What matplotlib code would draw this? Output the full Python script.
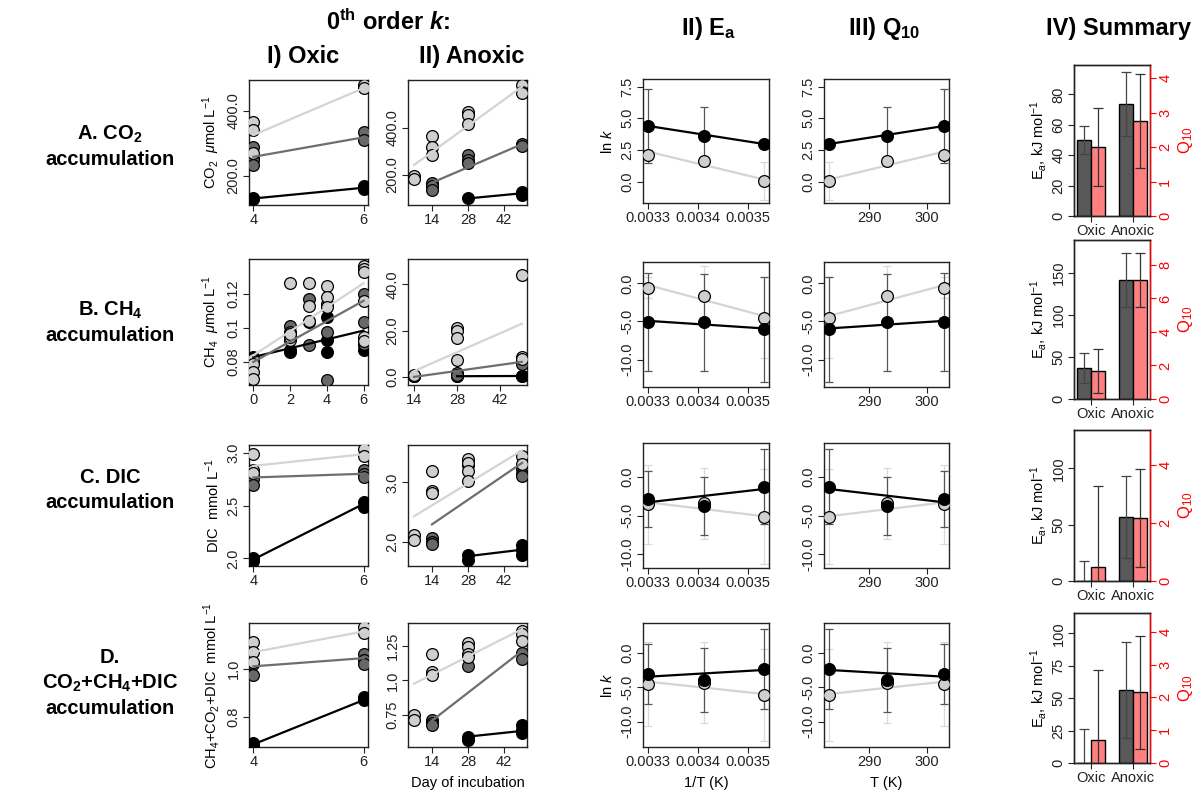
import matplotlib
matplotlib.use("Agg")
import matplotlib.pyplot as plt

plt.rcParams['font.family'] = ['Liberation Sans', 'DejaVu Sans']
plt.rcParams['mathtext.fontset'] = 'custom'
plt.rcParams['mathtext.rm'] = 'Liberation Sans'
plt.rcParams['mathtext.it'] = 'Liberation Sans:italic'
plt.rcParams['mathtext.bf'] = 'Liberation Sans:bold'
plt.rcParams['mathtext.bfit'] = 'Liberation Sans:italic:bold'

# ---- 0th order k: concentration vs day, {shade: (days, values)} ----
co2_oxic = {"black": ([4, 4, 6, 6], [131, 128, 169, 159]),
            "dark": ([4, 4, 4, 4, 6, 6], [288, 259, 249, 234, 336, 311]),
            "light": ([4, 4, 4, 6, 6], [367, 341, 270, 480, 470])}
co2_oxic_fit = {"black": ([4, 6], [131, 164]), "dark": ([4, 6], [259, 319]),
                "light": ([4, 6], [326, 470])}
co2_anox = {"black": ([28, 49, 49], [100, 129, 115]),
            "dark": ([14, 14, 14, 28, 28, 28, 49, 49], [167, 153, 136, 285, 264, 250, 331, 323]),
            "light": ([7, 7, 14, 14, 14, 28, 28, 28, 49, 49, 49],
                      [194, 181, 366, 318, 285, 468, 455, 417, 583, 555, 548])}
co2_anox_fit = {"black": ([28, 49], [100, 122]), "dark": ([14, 49], [167, 331]),
                "light": ([7, 49], [242, 576])}

ch4_oxic = {"black": ([0, 2, 2, 3, 4, 4, 4, 6, 6],
                      [0.083, 0.0868, 0.0858, 0.1034, 0.1063, 0.0927, 0.0858, 0.0897, 0.0872]),
            "dark": ([0, 2, 2, 3, 3, 4, 4, 4, 6, 6, 6],
                     [0.080, 0.1009, 0.0975, 0.1171, 0.0897, 0.1141, 0.0975, 0.0693, 0.1200, 0.1034, 0.0907]),
            "light": ([0, 0, 0, 0, 2, 2, 2, 2, 3, 3, 3, 4, 4, 4, 6, 6, 6, 6, 6, 6],
                      [0.082, 0.079, 0.074, 0.070, 0.1264, 0.0927, 0.0946, 0.0966, 0.1264, 0.1128,
                       0.1044, 0.1249, 0.1180, 0.1122, 0.1366, 0.1346, 0.1332, 0.1161, 0.0946, 0.0923])}
ch4_oxic_fit = {"black": ([0, 6], [0.0829, 0.0985]), "dark": ([0, 6], [0.080, 0.1161]),
                "light": ([0, 6], [0.0839, 0.1264])}
ch4_anox = {"black": ([14, 28, 28, 49, 49], [0.2, 0.2, 0.3, 0.3, 0.5]),
            "dark": ([14, 28, 28, 49, 49], [0.3, 1.5, 1.0, 7.0, 5.5]),
            "light": ([14, 14, 28, 28, 28, 28, 49, 49, 49], [0.5, 1.0, 21, 20, 17, 7.5, 44, 8.5, 7.8])}
ch4_anox_fit = {"black": ([28, 49], [0.3, 0.4]), "dark": ([14, 49], [0.0, 6.5]),
                "light": ([14, 49], [2.5, 23])}

dic_oxic = {"black": ([4, 4, 6, 6], [2.0, 1.98, 2.53, 2.49]),
            "dark": ([4, 4, 4, 6, 6, 6], [2.78, 2.75, 2.69, 2.835, 2.80, 2.77]),
            "light": ([4, 4, 4, 6, 6], [2.985, 2.835, 2.81, 3.03, 2.97])}
dic_oxic_fit = {"black": ([4, 6], [1.99, 2.515]), "dark": ([4, 6], [2.765, 2.80]),
                "light": ([4, 6], [2.875, 2.985])}
dic_anox = {"black": ([28, 28, 49, 49, 49], [1.78, 1.69, 1.95, 1.86, 1.78]),
            "dark": ([14, 14, 14, 28, 28, 49, 49, 49], [2.06, 2.0, 1.96, 3.30, 3.35, 3.22, 3.14, 3.11]),
            "light": ([7, 7, 14, 14, 14, 28, 28, 28, 28, 49, 49],
                      [2.11, 2.03, 3.195, 2.86, 2.83, 3.39, 3.33, 3.195, 3.03, 3.445, 3.31])}
dic_anox_fit = {"black": ([28, 49], [1.76, 1.87]), "dark": ([14, 49], [2.295, 3.33]),
                "light": ([7, 49], [2.43, 3.54])}

tot_oxic = {"black": ([4, 4, 6, 6], [0.69, 0.683, 0.883, 0.87]),
            "dark": ([4, 4, 6, 6, 6], [1.02, 0.976, 1.062, 1.035, 1.02]),
            "light": ([4, 4, 4, 6, 6], [1.11, 1.069, 1.027, 1.175, 1.15])}
tot_oxic_fit = {"black": ([4, 6], [0.686, 0.87]), "dark": ([4, 6], [1.01, 1.044]),
                "light": ([4, 6], [1.069, 1.155])}
tot_anox = {"black": ([28, 28, 49, 49, 49], [0.595, 0.57, 0.68, 0.643, 0.62]),
            "dark": ([14, 14, 14, 28, 49, 49], [0.714, 0.69, 0.68, 1.107, 1.20, 1.155]),
            "light": ([7, 7, 14, 14, 14, 28, 28, 28, 28, 49, 49, 49],
                      [0.75, 0.714, 1.19, 1.06, 1.036, 1.27, 1.24, 1.19, 1.17, 1.357, 1.333, 1.286])}
tot_anox_fit = {"black": ([28, 49], [0.595, 0.636]), "dark": ([14, 49], [0.71, 1.214]),
                "light": ([7, 49], [0.976, 1.37])}

oxic_yticks = {"A": ([200, 400], ["200.0", "400.0"]), "B": ([0.08, 0.1, 0.12], ["0.08", "0.1", "0.12"]),
               "C": ([2.0, 2.5, 3.0], ["2.0", "2.5", "3.0"]), "D": ([0.8, 1.0], ["0.8", "1.0"])}
anox_yticks = {"A": ([200, 400], ["200.0", "400.0"]), "B": ([0, 20, 40], ["0.0", "20.0", "40.0"]),
               "C": ([2.0, 3.0], ["2.0", "3.0"]), "D": ([0.75, 1.0, 1.25], ["0.75", "1.0", "1.25"])}
oxic_ylim = {"A": (111, 495), "B": (0.0664, 0.1407), "C": (1.928, 3.072), "D": (0.675, 1.19)}
anox_ylim = {"A": (72, 604), "B": (-3.5, 51), "C": (1.595, 3.63), "D": (0.52, 1.414)}
conc_ylabels = {"A": r"CO$_2$  $\mu$mol L$^{-1}$", "B": r"CH$_4$  $\mu$mol L$^{-1}$",
                "C": r"DIC  mmol L$^{-1}$", "D": r"CH$_4$+CO$_2$+DIC  mmol L$^{-1}$"}

# ---- Arrhenius / Q10: ln k at three temperatures ----
temps = [303, 293, 283]
inv_temps = [1 / 303, 1 / 293, 1 / 283]
lnk_black = {"A": [4.40, 3.57, 2.97], "B": [-5.05, -5.13, -6.05],
             "C": [-2.87, -3.77, -1.29], "D": [-3.09, -3.96, -2.36]}
lnk_black_err = {"A": [2.95, 2.3, 0.3], "B": [6.4, 6.4, 6.85],
                 "C": [3.55, 3.7, 4.86], "D": [4.4, 4.6, 5.8]}
lnk_light = {"A": [2.13, 1.61, 0.05], "B": [-0.57, -1.67, -4.53],
             "C": [-3.56, -3.43, -5.15], "D": [-4.54, -4.35, -6.14]}
lnk_light_err = {"A": [0.4, 0.3, 1.5], "B": [1.35, 3.9, 5.3],
                 "C": [5.1, 4.6, 6.1], "D": [6.1, 5.9, 6.7]}
lnk_black_fit = {"A": [4.40, 2.97], "B": [-4.92, -5.92], "C": [-3.3, -1.58], "D": [-3.48, -2.5]}
lnk_light_fit = {"A": [2.38, 0.17], "B": [-0.22, -4.3], "C": [-3.3, -5.1], "D": [-4.2, -6.0]}
lnk_ylim = {"A": (-1.68, 8.1), "B": (-13.6, 2.8), "C": (-11.76, 4.34), "D": (-13.67, 4.3)}
lnk_yticks = {"A": ([0, 2.5, 5, 7.5], ["0.0", "2.5", "5.0", "7.5"]),
              "B": ([-10, -5, 0], ["-10.0", "-5.0", "0.0"]),
              "C": ([-10, -5, 0], ["-10.0", "-5.0", "0.0"]),
              "D": ([-10, -5, 0], ["-10.0", "-5.0", "0.0"])}

# ---- Summary: Ea and Q10 for Oxic / Anoxic ----
groups = ["Oxic", "Anoxic"]
ea_val = {"A": [49.9, 73.5], "B": [36.7, 141.3], "C": [0, 56.6], "D": [0, 56.4]}
ea_err = {"A": [9, 21], "B": [17.4, 32], "C": [17.5, 36.5], "D": [26.5, 37]}
q10_val = {"A": [2.01, 2.77], "B": [1.65, 7.11], "C": [0.49, 2.16], "D": [0.69, 2.16]}
q10_err = {"A": [1.13, 1.37], "B": [1.32, 1.6], "C": [2.77, 1.68], "D": [2.13, 1.72]}
ea_ylim = {"A": 99.3, "B": 188.7, "C": 134, "D": 115.6}
q10_ylim = {"A": 4.39, "B": 9.49, "C": 5.2, "D": 4.57}
ea_ticks = {"A": [0, 20, 40, 60, 80], "B": [0, 50, 100, 150], "C": [0, 50, 100], "D": [0, 25, 50, 75, 100]}
q10_ticks = {"A": [0, 1, 2, 3, 4], "B": [0, 2, 4, 6, 8], "C": [0, 2, 4], "D": [0, 1, 2, 3, 4]}

rows = ["A", "B", "C", "D"]
oxic_data = {"A": (co2_oxic, co2_oxic_fit), "B": (ch4_oxic, ch4_oxic_fit),
             "C": (dic_oxic, dic_oxic_fit), "D": (tot_oxic, tot_oxic_fit)}
anox_data = {"A": (co2_anox, co2_anox_fit), "B": (ch4_anox, ch4_anox_fit),
             "C": (dic_anox, dic_anox_fit), "D": (tot_anox, tot_anox_fit)}

shade = {"black": "#000000", "dark": "#686868", "light": "#cfcfcf"}
line_shade = {"black": "#000000", "dark": "#6e6e6e", "light": "#d4d4d4"}

W, H = 1199, 797
fig = plt.figure(figsize=(W / 100, H / 100), dpi=100)


def box(l, t, r, b):
    return fig.add_axes([l / W, 1 - b / H, (r - l) / W, (b - t) / H])


def style(ax, color='#222222'):
    for s in ax.spines.values():
        s.set_color(color)
        s.set_linewidth(1.0)
    ax.tick_params(direction='out', length=4, width=0.8, labelsize=10.5, pad=2, colors='#222222')


def rot_y(ax):
    for lab in ax.get_yticklabels():
        lab.set_rotation(90)
        lab.set_verticalalignment('center')


def conc_panel(ax, pts, fit):
    for k in ["black", "dark", "light"]:
        ax.scatter(pts[k][0], pts[k][1], s=72, c=shade[k], edgecolors='black', linewidths=0.9, zorder=3)
    for k in ["black", "dark", "light"]:
        ax.plot(fit[k][0], fit[k][1], color=line_shade[k], lw=1.6, zorder=4)


# panel boxes in pixels
ts_rows = {"A": (80, 205), "B": (259, 385), "C": (445, 566), "D": (623, 747)}
ea_rows = {"A": (79, 203), "B": (262, 387), "C": (443, 568), "D": (623, 747)}
sm_rows = {"A": (65, 216), "B": (240, 399), "C": (430, 581), "D": (613, 763)}

for r in rows:
    t, b = ts_rows[r]
    # oxic
    ax = box(249, t, 368, b)
    conc_panel(ax, *oxic_data[r])
    if r == "B":
        ax.set_xlim(-0.24, 6.24)
        ax.set_xticks([0, 2, 4, 6])
    else:
        ax.set_xlim(3.92, 6.08)
        ax.set_xticks([4, 6])
    ax.set_ylim(*oxic_ylim[r])
    ax.set_yticks(*oxic_yticks[r])
    style(ax)
    rot_y(ax)
    ax.set_ylabel(conc_ylabels[r], fontsize=10.5, labelpad=3)
    # anoxic
    ax = box(408, t, 527, b)
    conc_panel(ax, *anox_data[r])
    if r == "B":
        ax.set_xlim(12.05, 50.7)
    else:
        ax.set_xlim(4.7, 50.9)
    ax.set_xticks([14, 28, 42])
    ax.set_ylim(*anox_ylim[r])
    ax.set_yticks(*anox_yticks[r])
    style(ax)
    rot_y(ax)
    if r == "D":
        ax.set_xlabel("Day of incubation", fontsize=10.5, labelpad=5)

    # Ea and Q10 panels
    t, b = ea_rows[r]
    for col, xs, xl, xt, xtl in [
        ("ea", inv_temps, (0.0032906, 0.0035430), [0.0033, 0.0034, 0.0035], ["0.0033", "0.0034", "0.0035"]),
        ("q10", temps, (282.2, 303.8), [290, 300], ["290", "300"]),
    ]:
        ax = box(643, t, 769, b) if col == "ea" else box(824, t, 949, b)
        for vals, errs, fitv, fc, ec in [
            (lnk_light[r], lnk_light_err[r], lnk_light_fit[r], "#cfcfcf", "#d9d9d9"),
            (lnk_black[r], lnk_black_err[r], lnk_black_fit[r], "#000000", "#555555"),
        ]:
            eb = ax.errorbar(xs, vals, yerr=errs, fmt='none', ecolor=ec, elinewidth=0.9,
                             capsize=3, capthick=0.9, zorder=2)
            for cl in eb[1]:
                cl.set_color("#111111" if fc == "#000000" else "#d0d0d0")
            ax.plot([xs[0], xs[2]], fitv, color=("#000000" if fc == "#000000" else "#d4d4d4"),
                    lw=1.6, zorder=3)
            ax.scatter(xs, vals, s=72, c=fc, edgecolors='black', linewidths=0.9, zorder=4)
        ax.set_xlim(*xl)
        ax.set_xticks(xt, xtl)
        ax.set_ylim(*lnk_ylim[r])
        ax.set_yticks(*lnk_yticks[r])
        style(ax)
        rot_y(ax)
        if col == "ea" and r in ("A", "D"):
            ax.set_ylabel(r"ln $k$", fontsize=10.5, labelpad=4)
        if r == "D":
            ax.set_xlabel("1/T (K)" if col == "ea" else "T (K)", fontsize=10.5, labelpad=5)

    # summary
    t, b = sm_rows[r]
    ax = box(1074, t, 1150, b)
    ea_x = [1.5, 4.5]
    q_x = [2.5, 5.5]
    ax.bar(ea_x, ea_val[r], width=1, color="#595959", edgecolor="black", linewidth=1, zorder=2)
    ax.errorbar(ea_x, ea_val[r], yerr=ea_err[r], fmt='none', ecolor="#444444", elinewidth=0.9,
                capsize=3.5, capthick=0.9, zorder=3)
    ax.set_xlim(0.8, 6.2)
    ax.set_ylim(0, ea_ylim[r])
    ax.set_xticks([2, 5], groups)
    ax.set_yticks(ea_ticks[r], [str(v) for v in ea_ticks[r]])
    style(ax)
    rot_y(ax)
    ax.set_ylabel(r"E$_a$, kJ mol$^{-1}$", fontsize=10.5, labelpad=2)
    ax2 = ax.twinx()
    ax2.bar(q_x, q10_val[r], width=1, color="#ff8080", edgecolor="black", linewidth=1, zorder=2)
    ax2.errorbar(q_x, q10_val[r], yerr=q10_err[r], fmt='none', ecolor="#333333", elinewidth=0.9,
                 capsize=3.5, capthick=0.9, zorder=3)
    ax2.set_xlim(0.8, 6.2)
    ax2.set_ylim(0, q10_ylim[r])
    ax2.set_yticks(q10_ticks[r], [str(v) for v in q10_ticks[r]])
    style(ax2)
    ax2.spines['right'].set_color('red')
    ax2.tick_params(axis='y', colors='red', labelcolor='red')
    rot_y(ax2)
    ax2.set_ylabel(r"Q$_{10}$", fontsize=12, color='red', labelpad=3)

# headers
hk = dict(fontsize=17, fontweight='bold', ha='center', va='center')
fig.text(388 / W, 1 - 22 / H, r"0$^{\mathbf{th}}$ order $\mathbfit{k}$:", **hk)
fig.text(303 / W, 1 - 57 / H, "I) Oxic", **hk)
fig.text(472 / W, 1 - 57 / H, "II) Anoxic", **hk)
fig.text(708 / W, 1 - 28 / H, r"II) E$_{\mathbf{a}}$", **hk)
fig.text(884 / W, 1 - 28 / H, r"III) Q$_{\mathbf{10}}$", **hk)
fig.text(1118 / W, 1 - 28 / H, "IV) Summary", **hk)

rk = dict(fontsize=14.5, fontweight='bold', ha='center', va='center', linespacing=1.35)
fig.text(110 / W, 1 - 146 / H, "A. CO$_{\\mathbf{2}}$\naccumulation", **rk)
fig.text(110 / W, 1 - 322 / H, "B. CH$_{\\mathbf{4}}$\naccumulation", **rk)
fig.text(110 / W, 1 - 490 / H, "C. DIC\naccumulation", **rk)
fig.text(110 / W, 1 - 683 / H,
         "D.\nCO$_{\\mathbf{2}}$+CH$_{\\mathbf{4}}$+DIC\naccumulation", **rk)

fig.savefig("out.png", dpi=100)
